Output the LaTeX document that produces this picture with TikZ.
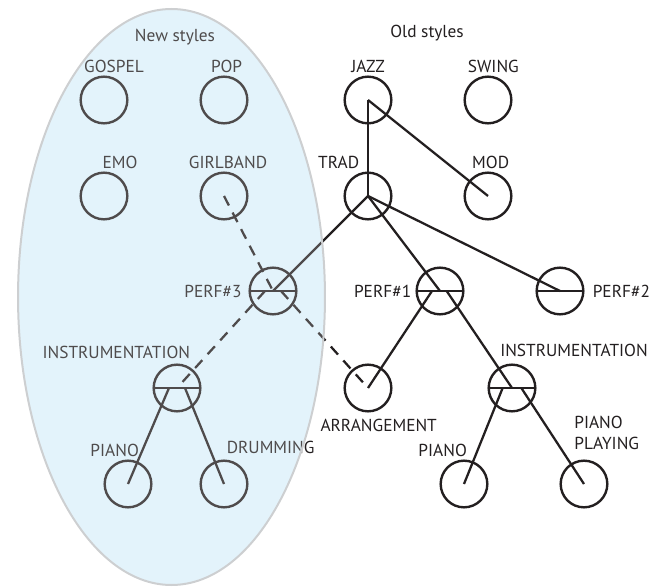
\documentclass[tikz,border=0pt]{standalone}
\usepackage{fontspec}
\setmainfont{PT Sans}
\usetikzlibrary{positioning}
\definecolor{inkBlack}{HTML}{231F20}
\definecolor{newFill}{HTML}{DCF1FA}
\definecolor{newBorder}{HTML}{CDCFD1}

\begin{document}
\begin{tikzpicture}[x=0.75pt, y=-0.75pt, font=\fontsize{13}{15.5}\selectfont,
        feat/.style={circle, draw=inkBlack, line width=1.8pt, minimum size=35pt, inner sep=0pt},
        andfeat/.style={feat, path picture={\draw[inkBlack, line width=1.8pt]
            (path picture bounding box.west) -- (path picture bounding box.east);}},
        lbl/.style={text=inkBlack, inner sep=1pt},
        link/.style={inkBlack, line width=1.7pt},
        optlink/.style={link, dash pattern=on 8pt off 6pt}]
    \useasboundingbox (0,0) rectangle (657,588);
    \fill[newFill] (171.5,297) ellipse [x radius=115.1pt, y radius=216pt];

    \node[lbl] (newTitle) at (175,37) {New styles};
    \node[lbl] (oldTitle) at (427,33) {Old styles};

    % new styles
    \node[feat] (gospel) at (104,100) {};
    \node[feat] (pop) at (224,100) {};
    \node[feat] (emo) at (104,196) {};
    \node[feat] (girlband) at (224,196) {};
    \node[andfeat] (perf3) at (273,291) {};
    \node[andfeat] (instL) at (177,388) {};
    \node[feat] (pianoL) at (128,484) {};
    \node[feat] (drumming) at (224,484) {};

    % old styles
    \node[feat] (jazz) at (368,100) {};
    \node[feat] (swing) at (488,100) {};
    \node[feat] (trad) at (368,196) {};
    \node[feat] (mod) at (488,196) {};
    \node[andfeat] (perf1) at (440,291) {};
    \node[andfeat] (perf2) at (560,291) {};
    \node[feat] (arrangement) at (368,388) {};
    \node[andfeat] (instR) at (512,388) {};
    \node[feat] (pianoR) at (464,484) {};
    \node[feat] (playing) at (584,484) {};

    \node[lbl, above=1pt of gospel, xshift=7.5pt] (gospelL) {GOSPEL};
    \node[lbl, above=1pt of pop, xshift=2pt] (popL) {POP};
    \node[lbl, above=1pt of emo, xshift=12pt] (emoL) {EMO};
    \node[lbl, above=1pt of girlband, xshift=3pt] (girlbandL) {GIRLBAND};
    \node[lbl, left=4pt of perf3] (perf3L) {PERF\#3};
    \node[lbl, above=2.5pt of instL, xshift=-45.5pt] (instLL) {INSTRUMENTATION};
    \node[lbl, above=0.5pt of pianoL, xshift=-10pt] (pianoLL) {PIANO};
    \node[lbl, above=3pt of drumming, xshift=35pt] (drummingL) {DRUMMING};
    \node[lbl, above=1pt of jazz] (jazzL) {JAZZ};
    \node[lbl, above=1pt of swing, xshift=4pt] (swingL) {SWING};
    \node[lbl, above=1pt of trad, xshift=-22pt] (tradL) {TRAD};
    \node[lbl, above=1pt of mod, xshift=2pt] (modL) {MOD};
    \node[lbl, left=2pt of perf1] (perf1L) {PERF\#1};
    \node[lbl, right=5pt of perf2] (perf2L) {PERF\#2};
    \node[lbl, above=4pt of instR, xshift=46.5pt] (instRL) {INSTRUMENTATION};
    \node[lbl, below=4pt of arrangement, xshift=8pt] (arrangementL) {ARRANGEMENT};
    \node[lbl, above=0.5pt of pianoR, xshift=-16pt] (pianoRL) {PIANO};
    \node[lbl, above=6pt of playing, xshift=17pt, align=left] (playingL) {PIANO\\PLAYING};

    \draw[link] (jazz.center) -- (trad.center);
    \draw[link] (jazz.center) -- (mod.center);
    \draw[link] (trad.center) -- (perf3.center);
    \draw[link] (trad.center) -- (perf1.center);
    \draw[link] (trad.center) -- (perf2.center);
    \draw[link] ([xshift=-6pt]perf1.center) -- (arrangement.center);
    \draw[link] ([xshift=5pt]perf1.center) -- (instR.center);
    \draw[link] ([xshift=-7pt]instR.center) -- (pianoR.center);
    \draw[link] ([xshift=7pt]instR.center) -- (playing.center);
    \draw[link] ([xshift=-6pt]instL.center) -- (pianoL.center);
    \draw[link] ([xshift=6pt]instL.center) -- (drumming.center);
    \draw[optlink] (girlband.center) -- (perf3.center);
    \draw[optlink] ([xshift=-6pt]perf3.center) -- (instL.center);
    \draw[optlink] ([xshift=6pt]perf3.center) -- (arrangement.center);

    \draw[newBorder, line width=1.5pt, fill=white, fill opacity=0.2]
        (171.5,297) ellipse [x radius=115.1pt, y radius=216pt];
\end{tikzpicture}
\end{document}
